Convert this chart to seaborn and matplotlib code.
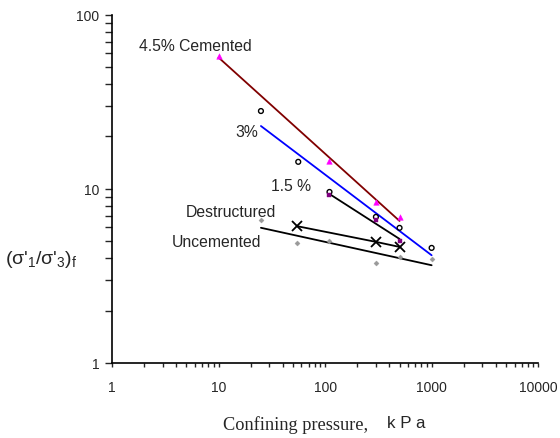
import numpy as np
import pandas as pd
import seaborn as sns
import matplotlib
matplotlib.use("Agg")
import matplotlib.pyplot as plt
from matplotlib.ticker import FuncFormatter, LogLocator

# values
cem45_p = [10, 110, 300, 500]
cem45_r = [58, 14.5, 8.4, 6.9]

cem3_p = [25, 56, 110, 300, 500, 1000]
cem3_r = [28, 14.3, 9.6, 6.9, 5.97, 4.58]

cem15_p = [110, 300, 500]
cem15_r = [9.2, 6.6, 5.0]

destr_p = [55, 300, 500]
destr_r = [6.1, 4.96, 4.64]

uncem_p = [25, 55, 110, 300, 500, 1000]
uncem_r = [6.6, 4.9, 5.0, 3.76, 4.07, 3.96]


def power_fit(p, r, n=50):
    # straight line in log-log space over the range of the data
    k, c = np.polyfit(np.log10(p), np.log10(r), 1)
    xs = np.logspace(np.log10(min(p)), np.log10(max(p)), n)
    return pd.DataFrame({"p": xs, "r": 10 ** (c + k * np.log10(xs))})


sns.set_style("ticks")
plt.rcParams["font.family"] = ["Liberation Sans", "DejaVu Sans"]
plt.rcParams["mathtext.fontset"] = "custom"
plt.rcParams["mathtext.rm"] = "Liberation Sans"
plt.rcParams["mathtext.it"] = "Liberation Sans"

fig = plt.figure(figsize=(5.6, 4.39), dpi=100)
ax = fig.add_axes([0.2, 0.171, 0.761, 0.793])
ax.set_xscale("log")
ax.set_yscale("log")

# trend lines
sns.lineplot(data=power_fit(cem45_p, cem45_r), x="p", y="r", ax=ax, color="#800000", lw=1.3)
sns.lineplot(data=power_fit(cem3_p, cem3_r), x="p", y="r", ax=ax, color="#0000ff", lw=1.3)
sns.lineplot(data=power_fit(cem15_p, cem15_r), x="p", y="r", ax=ax, color="black", lw=1.3)
sns.lineplot(data=power_fit(uncem_p, uncem_r), x="p", y="r", ax=ax, color="black", lw=1.3)
sns.lineplot(x=destr_p, y=destr_r, ax=ax, color="black", lw=1.3,
             marker="x", markersize=7, mew=1.3, mec="black")

# data points
sns.scatterplot(x=cem45_p, y=cem45_r, ax=ax, marker="^", s=16, color="#ff00ff", edgecolor="#ff00ff", zorder=5)
sns.scatterplot(x=cem3_p, y=cem3_r, ax=ax, marker="o", s=12, facecolor="none", edgecolor="black", linewidth=1.0, zorder=5)
sns.scatterplot(x=cem15_p, y=cem15_r, ax=ax, marker="s", s=12, color="#800080", edgecolor="#800080", zorder=5)
sns.scatterplot(x=uncem_p, y=uncem_r, ax=ax, marker="D", s=7, color="#999999", edgecolor="#999999", zorder=5)

lab = dict(fontsize=11.3, ha="center", va="center")
ax.text(6.0, 67, "4.5% Cemented", **lab)
ax.text(18.5, 21.3, "3%", **lab)
ax.text(48, 10.5, "1.5 %", **lab)
ax.text(13.1, 7.4, "Destructured", **lab)
ax.text(9.5, 4.96, "Uncemented", **lab)

ax.set_xlim(1, 10000)
ax.set_ylim(1, 100)
sns.despine(ax=ax)
for s in ["left", "bottom"]:
    ax.spines[s].set_linewidth(1.2)
    ax.spines[s].set_color("black")

fmt = FuncFormatter(lambda v, _: f"{v:g}")
ax.xaxis.set_major_formatter(fmt)
ax.yaxis.set_major_formatter(fmt)
ax.xaxis.set_minor_locator(LogLocator(base=10, subs=np.arange(2, 10)))
ax.yaxis.set_minor_locator(LogLocator(base=10, subs=np.arange(2, 10)))
ax.xaxis.set_minor_formatter(FuncFormatter(lambda v, _: ""))
ax.yaxis.set_minor_formatter(FuncFormatter(lambda v, _: ""))
ax.tick_params(axis="x", which="both", direction="out", length=3, width=1, pad=9, labelsize=10)
ax.tick_params(axis="y", which="both", direction="out", length=5, width=1, pad=4, labelsize=10)
ax.set_xlabel("")
ax.set_ylabel("")

fig.text(0.073, 0.408, "(σ'$_{1}$/σ'$_{3}$)$_{f}$", fontsize=14, ha="center", va="center")
fig.text(0.398, 0.032, "Confining pressure,", fontsize=13.2, family=["Liberation Serif"], ha="left", va="center")
fig.text(0.691, 0.036, "k P a", fontsize=12.2, ha="left", va="center")

fig.savefig("out.png", dpi=100)
